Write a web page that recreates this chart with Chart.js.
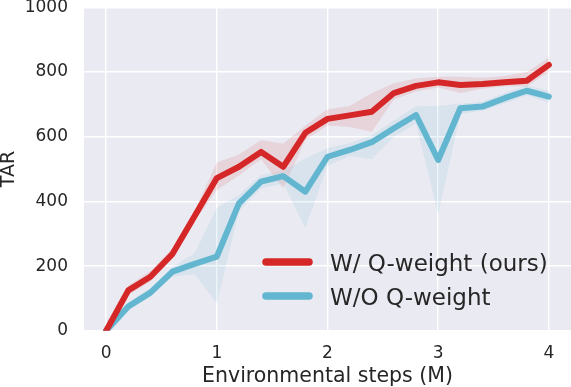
<!DOCTYPE html>
<html>
<head>
<meta charset="utf-8">
<script src="https://cdn.jsdelivr.net/npm/chart.js@4.4.0/dist/chart.umd.min.js"></script>
<style>
  html, body { margin: 0; padding: 0; background: #ffffff; }
  #wrap { width: 571px; height: 387px; position: relative; }
</style>
</head>
<body>
<div id="wrap"><canvas id="c" width="571" height="387"></canvas></div>
<script>
// ---- data ----
const steps = [0, 0.2, 0.4, 0.6, 0.8, 1.0, 1.2, 1.4, 1.6, 1.8, 2.0, 2.2, 2.4, 2.6, 2.8, 3.0, 3.2, 3.4, 3.6, 3.8, 4.0];
const seriesLabels = ['W/ Q-weight (ours)', 'W/O Q-weight'];
const qMean = [0, 125, 167, 238, 355, 472, 507, 553, 507, 612, 655, 666, 677, 735, 757, 768, 760, 763, 768, 773, 822];
const qLow  = [0, 110, 152, 225, 340, 435, 480, 530, 440, 590, 635, 630, 615, 715, 740, 752, 735, 748, 756, 755, 800];
const qHigh = [0, 140, 185, 255, 372, 520, 545, 590, 578, 635, 685, 695, 735, 765, 780, 785, 785, 782, 788, 800, 845];
const nMean = [0, 75, 118, 183, 207, 229, 394, 461, 478, 430, 538, 559, 583, 626, 667, 528, 688, 693, 719, 742, 724];
const nLow  = [0, 62, 105, 168, 175, 85, 370, 440, 455, 318, 510, 540, 530, 600, 640, 360, 670, 680, 703, 728, 705];
const nHigh = [0, 88, 132, 198, 240, 380, 420, 482, 495, 532, 565, 580, 605, 650, 695, 695, 702, 708, 735, 758, 742];
const xTicks = [0, 1, 2, 3, 4];
const yTicks = [0, 200, 400, 600, 800, 1000];

const RED = '#d62728';
const BLUE = '#62b6cf';
const FONT = 'DejaVu Sans';
const TXT = '#262626';

const pts = arr => arr.map((v, i) => ({ x: steps[i], y: v }));

const bgPlugin = {
  id: 'bg',
  beforeDraw(chart) {
    const { ctx, chartArea: a } = chart;
    ctx.save();
    ctx.fillStyle = '#eaeaf2';
    ctx.fillRect(a.left, a.top, a.right - a.left, a.bottom - a.top);
    ctx.restore();
  }
};

const legendPlugin = {
  id: 'customLegend',
  afterDraw(chart) {
    const { ctx } = chart;
    const items = [
      { label: seriesLabels[0], color: RED, y: 262, base: 270.5 },
      { label: seriesLabels[1], color: BLUE, y: 296, base: 304.5 }
    ];
    ctx.save();
    items.forEach(it => {
      ctx.beginPath();
      ctx.strokeStyle = it.color;
      ctx.lineWidth = 7.5;
      ctx.lineCap = 'round';
      ctx.moveTo(266, it.y);
      ctx.lineTo(309, it.y);
      ctx.stroke();
      ctx.fillStyle = TXT;
      ctx.font = '23px "' + FONT + '"';
      ctx.textBaseline = 'alphabetic';
      ctx.textAlign = 'left';
      ctx.fillText(it.label, 330, it.base);
    });
    ctx.restore();
  }
};

new Chart(document.getElementById('c'), {
  type: 'line',
  data: {
    datasets: [
      { label: 'qlow', data: pts(qLow), borderWidth: 0, pointRadius: 0, fill: false, order: 10, borderColor: 'rgba(0,0,0,0)' },
      { label: 'qhigh', data: pts(qHigh), borderWidth: 0, pointRadius: 0, fill: '-1', backgroundColor: 'rgba(214,39,40,0.11)', order: 9, borderColor: 'rgba(0,0,0,0)' },
      { label: 'nlow', data: pts(nLow), borderWidth: 0, pointRadius: 0, fill: false, order: 8, borderColor: 'rgba(0,0,0,0)' },
      { label: 'nhigh', data: pts(nHigh), borderWidth: 0, pointRadius: 0, fill: '-1', backgroundColor: 'rgba(98,182,207,0.12)', order: 7, borderColor: 'rgba(0,0,0,0)' },
      { label: seriesLabels[1], data: pts(nMean), borderColor: BLUE, borderWidth: 6, pointRadius: 0, fill: false, tension: 0, borderCapStyle: 'round', borderJoinStyle: 'round', order: 2 },
      { label: seriesLabels[0], data: pts(qMean), borderColor: RED, borderWidth: 6, pointRadius: 0, fill: false, tension: 0, borderCapStyle: 'round', borderJoinStyle: 'round', order: 1 }
    ]
  },
  options: {
    responsive: false,
    animation: false,
    devicePixelRatio: 1,
    layout: { padding: { left: 0, right: 0, top: 7.3, bottom: 0 } },
    plugins: { legend: { display: false }, tooltip: { enabled: false } },
    scales: {
      x: {
        type: 'linear',
        min: -0.2,
        max: 4.2,
        afterBuildTicks: s => { s.ticks = xTicks.map(v => ({ value: v })); },
        afterFit: s => { s.height = 56.2; s.paddingLeft = 0; s.paddingRight = 0; },
        grid: { color: '#ffffff', lineWidth: 1.4, drawTicks: false },
        border: { display: false },
        ticks: { color: TXT, font: { family: FONT, size: 17, lineHeight: 1 }, padding: 14, maxRotation: 0,
                 callback: v => String(v) },
        title: { display: true, text: 'Environmental steps (M)', color: TXT,
                 font: { family: FONT, size: 20.5, lineHeight: 1 }, padding: { top: 0, bottom: 0 } }
      },
      y: {
        type: 'linear',
        min: 0,
        max: 1000,
        afterBuildTicks: s => { s.ticks = yTicks.map(v => ({ value: v })); },
        afterFit: s => { s.width = 84; s.paddingTop = 0; s.paddingBottom = 0; },
        grid: { color: '#ffffff', lineWidth: 1.4, drawTicks: false },
        border: { display: false },
        ticks: { color: TXT, font: { family: FONT, size: 17, lineHeight: 1 }, padding: 16,
                 callback: v => String(v) },
        title: { display: true, text: 'TAR', color: TXT,
                 font: { family: FONT, size: 19, lineHeight: 1 }, padding: { top: 0, bottom: 0 } }
      }
    }
  },
  plugins: [bgPlugin, legendPlugin]
});
</script>
</body>
</html>
